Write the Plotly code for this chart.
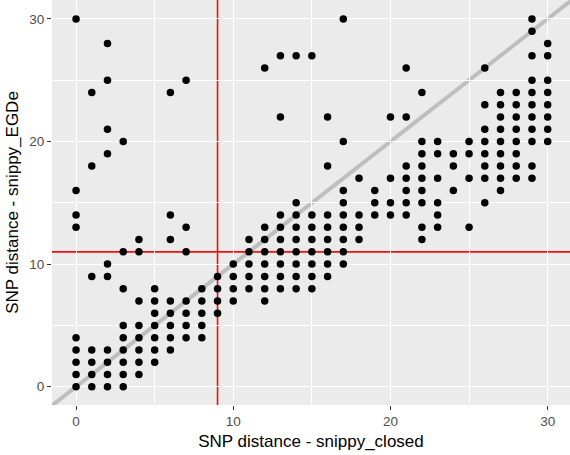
import plotly.graph_objects as go

# Pairwise SNP distances: snippy_closed (x) vs snippy_EGDe (y)
snp_closed = [
    0, 1, 2, 3,
    0, 1, 2, 3, 4,
    0, 1, 2, 3, 4, 5,
    0, 1, 2, 3, 4, 5, 6,
    0, 3, 4, 5, 6, 7, 8,
    3, 4, 5, 6, 7, 8,
    5, 6, 7, 8, 9,
    4, 5, 6, 7, 8, 9, 10, 12,
    3, 5, 8, 9, 10, 11, 12, 13, 14, 15,
    1, 2, 9, 10, 11, 12, 13, 14, 15, 16,
    2, 10, 11, 12, 13, 14, 15, 16, 17,
    3, 4, 7, 11, 12, 13, 14, 15, 16, 17,
    4, 6, 11, 12, 13, 14, 15, 16, 17, 18, 22,
    0, 7, 12, 13, 14, 15, 16, 17, 18, 22, 23, 25,
    0, 6, 13, 14, 15, 16, 17, 18, 19, 20, 21, 23,
    14, 17, 19, 20, 21, 22, 23, 26,
    0, 17, 19, 21, 22, 24, 27,
    18, 20, 21, 22, 23, 25, 26, 27, 28, 29,
    1, 16, 21, 22, 24, 26, 27, 28, 29,
    2, 22, 23, 24, 25, 26, 27, 28,
    3, 17, 22, 23, 25, 26, 27, 28, 29, 30,
    2, 26, 27, 28, 29, 30,
    13, 16, 20, 21, 27, 28, 29, 30,
    26, 27, 28, 29, 30,
    1, 6, 22, 27, 28, 29, 30,
    2, 7, 29, 30,
    12, 21, 26,
    13, 14, 15, 29, 30,
    2, 30,
    29,
    0, 17, 29,
]

snp_egde = (
    [0] * 4 + [1] * 5 + [2] * 6 + [3] * 7 + [4] * 7 + [5] * 6 + [6] * 5
    + [7] * 8 + [8] * 10 + [9] * 10 + [10] * 9 + [11] * 10 + [12] * 11
    + [13] * 12 + [14] * 12 + [15] * 8 + [16] * 7 + [17] * 10 + [18] * 9
    + [19] * 8 + [20] * 10 + [21] * 6 + [22] * 8 + [23] * 5 + [24] * 7
    + [25] * 4 + [26] * 3 + [27] * 5 + [28] * 2 + [29] * 1 + [30] * 3
)

# Reference thresholds
threshold_closed = 9
threshold_egde = 11

tick_values = [0, 10, 20, 30]
x_range = [-1.53, 31.42]
y_range = [-1.49, 31.54]

font_family = "Liberation Sans, Arial, Helvetica, sans-serif"

fig = go.Figure()

fig.add_trace(go.Scatter(
    x=snp_closed,
    y=snp_egde,
    mode="markers",
    marker=dict(color="black", size=7.5, line=dict(width=0)),
    showlegend=False,
    hoverinfo="x+y",
))

# identity line y = x spanning the panel
fig.add_shape(type="line", xref="x", yref="y",
              x0=-5, y0=-5, x1=40, y1=40,
              line=dict(color="#BEBEBE", width=4), layer="below")
# threshold lines
fig.add_shape(type="line", xref="x", yref="paper",
              x0=threshold_closed, x1=threshold_closed, y0=0, y1=1,
              line=dict(color="#F01010", width=1.6), layer="below")
fig.add_shape(type="line", xref="paper", yref="y",
              x0=0, x1=1, y0=threshold_egde, y1=threshold_egde,
              line=dict(color="#F01010", width=1.6), layer="below")

axis_common = dict(
    tickvals=tick_values,
    ticktext=[str(v) for v in tick_values],
    showgrid=True,
    gridcolor="white",
    gridwidth=1.3,
    zeroline=False,
    showline=False,
    ticks="outside",
    ticklen=4,
    tickwidth=1.2,
    tickcolor="#333333",
    tickfont=dict(family=font_family, size=13.5, color="#4D4D4D"),
    minor=dict(dtick=5, tick0=0, showgrid=True, gridcolor="white",
               gridwidth=0.6, ticks=""),
)

fig.update_xaxes(
    range=x_range,
    title=dict(text="SNP distance - snippy_closed",
               font=dict(family=font_family, size=17, color="black"),
               standoff=6),
    **axis_common,
)
fig.update_yaxes(
    range=y_range,
    title=dict(text="SNP distance - snippy_EGDe",
               font=dict(family=font_family, size=17, color="black"),
               standoff=6),
    **axis_common,
)

fig.update_layout(
    width=570,
    height=455,
    margin=dict(l=52, r=0, t=0, b=50),
    plot_bgcolor="#EBEBEB",
    paper_bgcolor="white",
    font=dict(family=font_family),
)

fig.write_html("out.html")
